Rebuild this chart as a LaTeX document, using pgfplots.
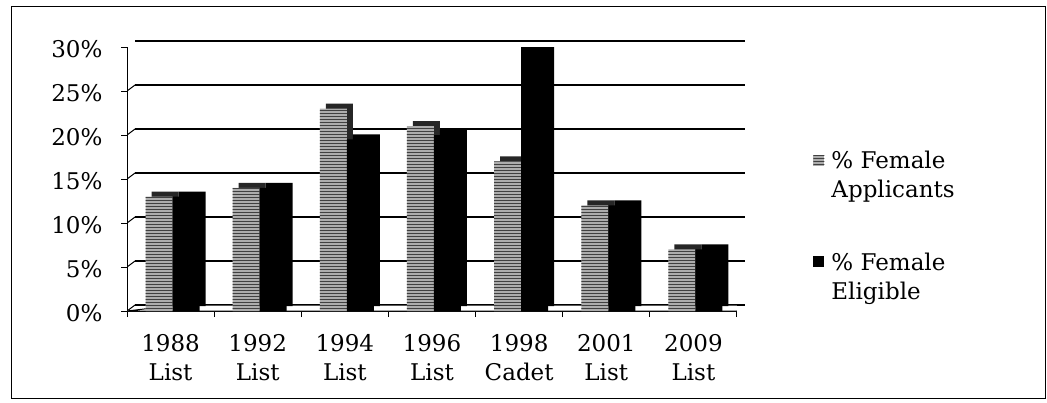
\documentclass[border=0pt]{standalone}
\usepackage{pgfplots}
\pgfplotsset{compat=1.18}
\usepackage{pgfplotstable}
\usepackage{fontspec}
\setmainfont{DejaVu Serif}
\usetikzlibrary{patterns}

\pgfplotstableread{
x app elig
0 13 13
1 14 14
2 23 19.5
3 21 20
4 17 30
5 12 12
6 7 7
}\datatable

\begin{document}
\begin{tikzpicture}
\useasboundingbox (0,0) rectangle (1047pt,402pt);
\draw[line width=0.8pt] (11pt,4pt) rectangle (1045pt,396pt);
\begin{axis}[
  at={(127pt,91pt)}, anchor=south west,
  scale only axis, width=610pt, height=264pt,
  xmin=-0.5, xmax=6.5, ymin=0, ymax=30,
  axis x line*=bottom, axis y line*=left,
  axis line style={-, line width=1pt},
  ybar, bar width=27pt,
  x tick label as interval,
  xtick={-0.5,0.5,...,6.5},
  xticklabels={{1988\\List},{1992\\List},{1994\\List},{1996\\List},{1998\\Cadet},{2001\\List},{2009\\List}},
  xticklabel style={align=center, yshift=-14pt},
  ytick={0,5,...,30},
  yticklabels={0\%,5\%,10\%,15\%,20\%,25\%,30\%},
  yticklabel style={xshift=-15pt, yshift=-2pt},
  tick label style={font=\fontsize{23}{29}\selectfont},
  tick align=outside, major tick length=6pt,
  tick style={line width=1pt, black},
  ymajorgrids,
  major grid style={line width=1.3pt, black, xshift=8pt, yshift=6pt},
  legend style={at={(axis description cs:1.125,0.625)}, anchor=north west,
    draw=none, fill=none, font=\fontsize{23}{29}\selectfont, row sep=76pt, inner sep=0pt,
    cells={anchor=base west}},
  legend image code/.code={\fill[#1] (0pt,3pt) rectangle (11pt,14pt); \path (16pt,0pt);},
]
\pgfplotsinvokeforeach{0,5,10,15,20,25,30}{\draw[line width=1pt] (axis cs:-0.5,#1) -- ++(8pt,6pt);}
\filldraw[fill=white, line width=1pt] (axis cs:-0.5,0) -- (axis cs:6.5,0) -- ++(8pt,6pt) -- ++(-610pt,0) -- cycle;
\addplot[forget plot, fill=black!85, draw=none, xshift=6pt, yshift=5pt, bar shift=-11.5pt] table[x=x,y=app]{\datatable};
\addplot[forget plot, fill=black, draw=none, xshift=6pt, yshift=5pt, bar shift=15.5pt] table[x=x,y=elig]{\datatable};
\addplot[draw=none, fill=gray!65,
  postaction={pattern=horizontal lines, pattern color=black!75}, bar shift=-11.5pt] table[x=x,y=app]{\datatable};
\addlegendentry{\begin{tabular}[t]{@{}l@{}}\% Female\\Applicants\end{tabular}}
\addplot[fill=black, draw=none, bar shift=15.5pt] table[x=x,y=elig]{\datatable};
\addlegendentry{\begin{tabular}[t]{@{}l@{}}\% Female\\Eligible\end{tabular}}
\end{axis}
\end{tikzpicture}
\end{document}
